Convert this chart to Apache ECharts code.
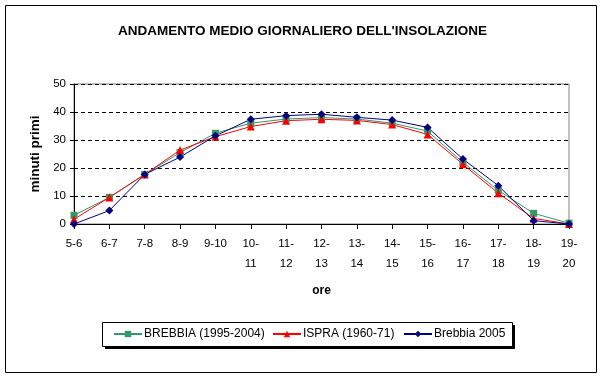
<!DOCTYPE html>
<html><head><meta charset="utf-8">
<script src="https://cdn.jsdelivr.net/npm/echarts@6/dist/echarts.min.js"></script>
<style>html,body{margin:0;padding:0;background:#fff}#c{width:605px;height:380px}</style>
</head><body><div id="c"></div>
<script>
const categories = ['5-6','6-7','7-8','8-9','9-10','10-\n11','11-\n12','12-\n13','13-\n14','14-\n15','15-\n16','16-\n17','17-\n18','18-\n19','19-\n20'];
const brebbia9504 = [3.1, 9.5, 17.7, 25.5, 32.4, 36.0, 37.5, 38.0, 37.5, 36.0, 33.2, 22.0, 12.0, 3.8, 0.3];
const ispra6071 = [1.7, 9.5, 17.7, 26.4, 31.2, 34.8, 36.9, 37.4, 37.0, 35.5, 32.0, 21.3, 11.0, 2.0, 0.0];
const brebbia2005 = [0.0, 4.8, 17.7, 23.9, 31.5, 37.4, 38.7, 39.2, 38.1, 37.1, 34.5, 23.2, 13.7, 1.2, 0.0];
const seriesNames = ['BREBBIA (1995-2004)', 'ISPRA (1960-71)', 'Brebbia 2005'];
const yTicks = [0, 10, 20, 30, 40, 50];

const chart = echarts.init(document.getElementById('c'), null, {renderer: 'canvas'});
const font = 'Arial, "Liberation Sans", sans-serif';
function mkSeries(name, data, color, symbol, size) {
  return {
    name, type: 'line', data, symbol, symbolSize: size,
    lineStyle: {color, width: 1}, itemStyle: {color},
    emphasis: {disabled: true}, animation: false
  };
}
function mkLegend(name, left) {
  return {
    left, top: 328, padding: 0, itemWidth: 28, itemHeight: 8, itemGap: 0,
    selectedMode: false,
    textStyle: {fontFamily: font, fontSize: 12, color: '#000', padding: [0, 0, 0, -3]},
    data: [name]
  };
}
chart.setOption({
  animation: false,
  title: {
    text: "ANDAMENTO MEDIO GIORNALIERO DELL'INSOLAZIONE",
    left: 'center', top: 19,
    textStyle: {fontFamily: font, fontSize: 13.5, fontWeight: 'bold', color: '#000'}
  },
  graphic: [
    {type: 'rect', shape: {x: 5.5, y: 5.5, width: 591, height: 367}, style: {fill: 'none', stroke: '#000', lineWidth: 1}, z: 100},
    {type: 'rect', shape: {x: 105, y: 325, width: 410, height: 24}, style: {fill: '#000'}, z: 0},
    {type: 'rect', shape: {x: 102.5, y: 322.5, width: 410, height: 24}, style: {fill: '#fff', stroke: '#000', lineWidth: 1}, z: 1}
  ],
  grid: {left: 74, right: 36, top: 84, bottom: 156, show: true, borderColor: '#808080', borderWidth: 1, backgroundColor: '#fff'},
  legend: [mkLegend(seriesNames[0], 113), mkLegend(seriesNames[1], 272), mkLegend(seriesNames[2], 403)],
  xAxis: {
    type: 'category', data: categories, boundaryGap: false,
    name: 'ore', nameLocation: 'middle', nameGap: 61,
    nameTextStyle: {fontFamily: font, fontSize: 12, fontWeight: 'bold', color: '#000'},
    axisLine: {lineStyle: {color: '#000', width: 1}},
    axisTick: {show: true, length: 5, lineStyle: {color: '#000'}, interval: 0},
    axisLabel: {interval: 0, fontFamily: font, fontSize: 11.5, color: '#000', lineHeight: 20, margin: 10},
    splitLine: {show: false}
  },
  yAxis: {
    type: 'value', min: yTicks[0], max: yTicks[yTicks.length - 1], interval: 10,
    name: 'minuti primi', nameLocation: 'middle', nameGap: 20, nameRotate: 90,
    nameTextStyle: {fontFamily: font, fontSize: 13.5, fontWeight: 'bold', color: '#000'},
    axisLine: {show: true, lineStyle: {color: '#000', width: 1}},
    axisTick: {show: true, length: 4, lineStyle: {color: '#000'}},
    axisLabel: {fontFamily: font, fontSize: 11.5, color: '#000', margin: 8},
    splitLine: {show: true, lineStyle: {color: '#000', type: [4, 3], width: 1}}
  },
  series: [
    mkSeries(seriesNames[0], brebbia9504, '#339966', 'rect', 7),
    mkSeries(seriesNames[1], ispra6071, '#ff0000', 'triangle', 8),
    mkSeries(seriesNames[2], brebbia2005, '#000080', 'diamond', 8)
  ]
});
</script></body></html>
